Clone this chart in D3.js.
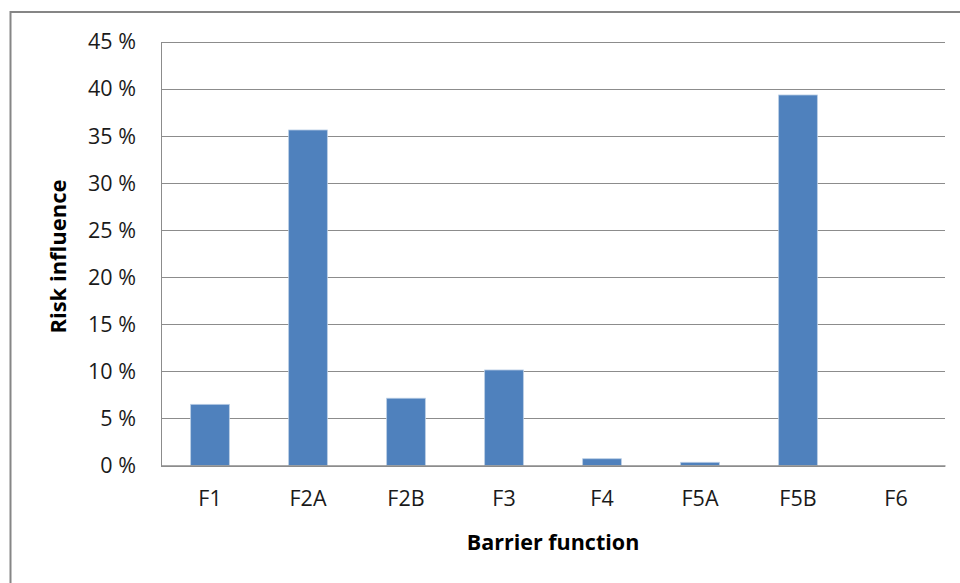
<!DOCTYPE html>
<html><head><meta charset="utf-8">
<script src="https://cdn.jsdelivr.net/npm/d3@7"></script>
<style>body{margin:0;background:#fff;} text{font-family:"Open Sans",sans-serif;}</style>
</head><body>
<script>
const categories = ["F1","F2A","F2B","F3","F4","F5A","F5B","F6"];
const values = [6.5, 35.65, 7.15, 10.15, 0.72, 0.34, 39.37, 0];
const yTicks = [0,5,10,15,20,25,30,35,40,45];
const yTitle = "Risk influence";
const xTitle = "Barrier function";

const W = 960, H = 583;
const svg = d3.select("body").append("svg").attr("width", W).attr("height", H);
svg.append("rect").attr("x",0).attr("y",0).attr("width",W).attr("height",H).attr("fill","#fff");
// outer frame
svg.append("path").attr("d","M10.5,"+H+" L10.5,12 L"+W+",12").attr("fill","none").attr("stroke","#868686").attr("stroke-width",2);

const pLeft = 161, pRight = 945, pTop = 42, pBottom = 465.5;
const x = d3.scaleBand().domain(categories).range([pLeft, pRight]).paddingInner(0.605).paddingOuter(0.3025);
const y = d3.scaleLinear().domain([0,45]).range([pBottom, pTop]);

// gridlines
svg.append("g").selectAll("line").data(yTicks).join("line")
  .attr("x1", pLeft).attr("x2", pRight)
  .attr("y1", d => Math.round(y(d))+0.5).attr("y2", d => Math.round(y(d))+0.5)
  .attr("stroke","#8c8c8c").attr("stroke-width",1);

// y axis
const yAxis = d3.axisLeft(y).tickValues(yTicks).tickFormat(d => d + " %").tickSize(0).tickPadding(25);
const gy = svg.append("g").attr("transform","translate("+pLeft+",0)").call(yAxis);
gy.select(".domain").attr("stroke","#8c8c8c");
gy.selectAll("text").attr("font-size",21.5).attr("fill","#1a1a1a").attr("font-family","'Open Sans',sans-serif");

// bars
svg.append("g").selectAll("rect").data(values).join("rect")
  .attr("x",(d,i)=>x(categories[i]))
  .attr("width",x.bandwidth())
  .attr("y",d=>y(d))
  .attr("height",d=>pBottom - y(d))
  .attr("fill","#4f81bd")
  .attr("stroke","#b9cde5").attr("stroke-width",d=>d>0?0.8:0);

// x axis
const xAxis = d3.axisBottom(x).tickSize(0).tickPadding(25);
const gx = svg.append("g").attr("transform","translate(0,"+pBottom+")").call(xAxis);
gx.select(".domain").attr("stroke","#8c8c8c").attr("stroke-width",1.5);
gx.selectAll("text").attr("font-size",21.5).attr("fill","#1a1a1a").attr("font-family","'Open Sans',sans-serif");

// titles
svg.append("text").attr("x", 553).attr("y", 550).attr("text-anchor","middle")
  .attr("font-size",21.5).attr("font-weight","bold").attr("fill","#000").text(xTitle);
svg.append("text").attr("transform","translate(66,256.5) rotate(-90)").attr("text-anchor","middle")
  .attr("font-size",22).attr("font-weight","bold").attr("fill","#000").text(yTitle);
</script>
</body></html>
